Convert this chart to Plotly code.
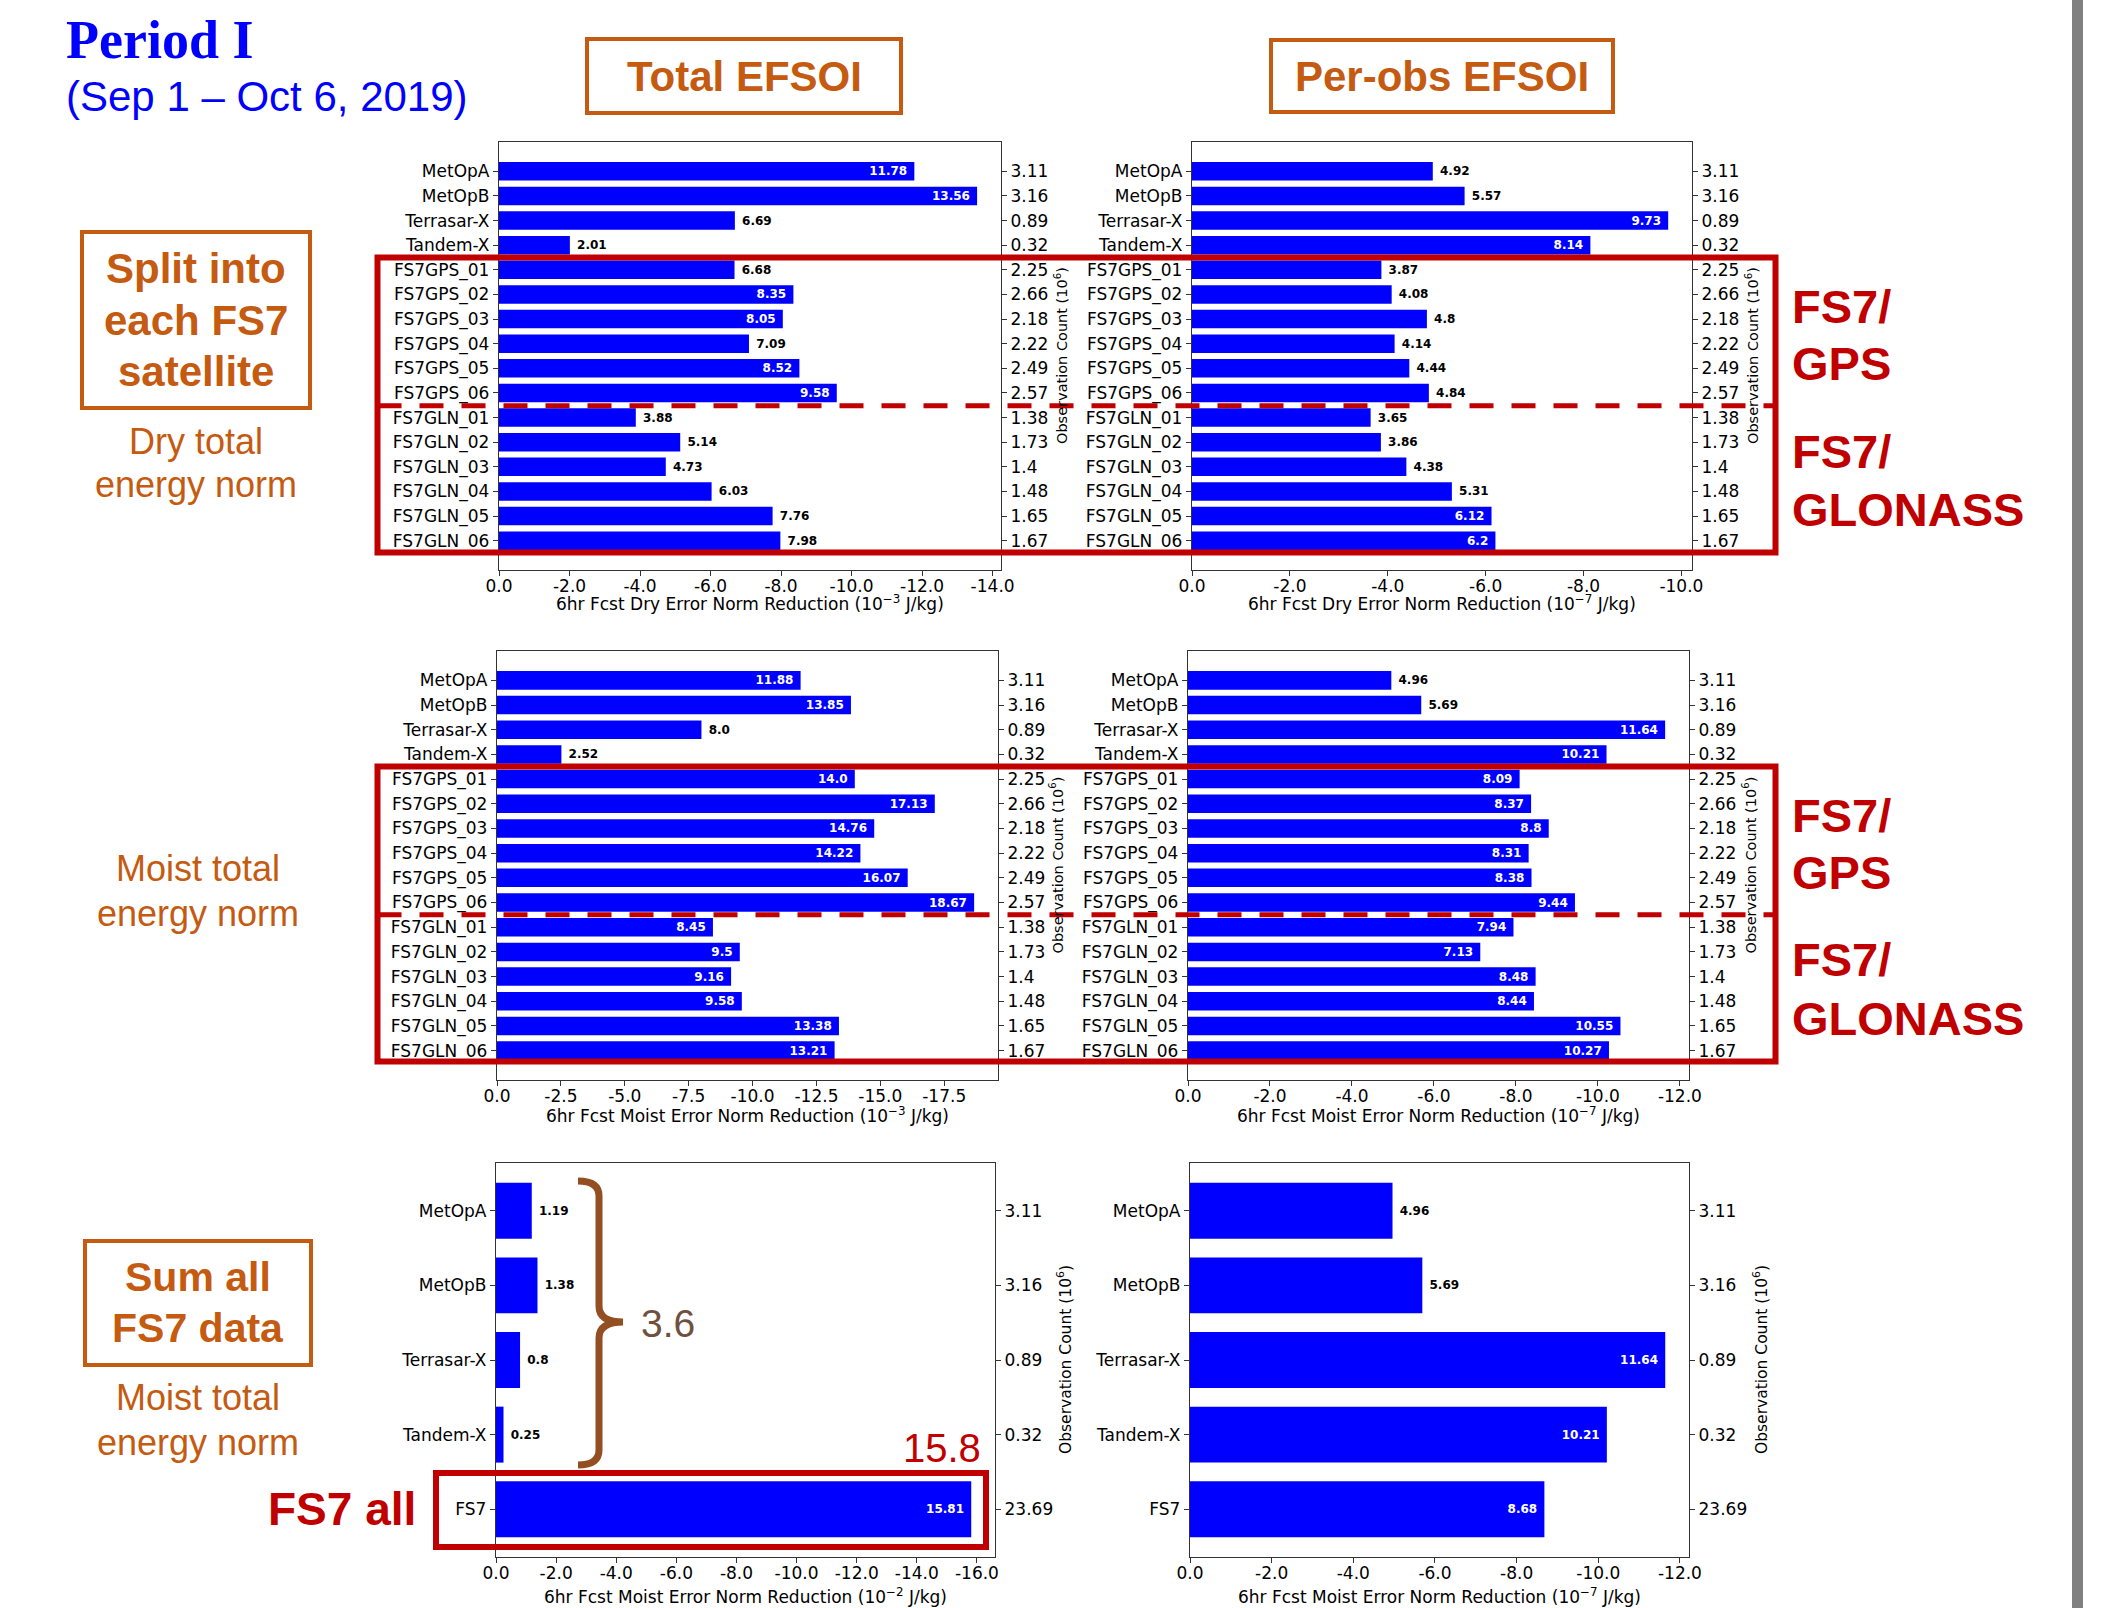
import plotly.graph_objects as go

W, H = 2112, 1608

# ---------------- data ----------------
names_split = ["MetOpA", "MetOpB", "Terrasar-X", "Tandem-X",
               "FS7GPS_01", "FS7GPS_02", "FS7GPS_03", "FS7GPS_04", "FS7GPS_05", "FS7GPS_06",
               "FS7GLN_01", "FS7GLN_02", "FS7GLN_03", "FS7GLN_04", "FS7GLN_05", "FS7GLN_06"]
counts_split = [3.11, 3.16, 0.89, 0.32, 2.25, 2.66, 2.18, 2.22, 2.49, 2.57,
                1.38, 1.73, 1.4, 1.48, 1.65, 1.67]

names_sum = ["MetOpA", "MetOpB", "Terrasar-X", "Tandem-X", "FS7"]
counts_sum = [3.11, 3.16, 0.89, 0.32, 23.69]

dry_total = [11.78, 13.56, 6.69, 2.01, 6.68, 8.35, 8.05, 7.09, 8.52, 9.58,
             3.88, 5.14, 4.73, 6.03, 7.76, 7.98]
dry_perobs = [4.92, 5.57, 9.73, 8.14, 3.87, 4.08, 4.8, 4.14, 4.44, 4.84,
              3.65, 3.86, 4.38, 5.31, 6.12, 6.2]
moist_total = [11.88, 13.85, 8.0, 2.52, 14.0, 17.13, 14.76, 14.22, 16.07, 18.67,
               8.45, 9.5, 9.16, 9.58, 13.38, 13.21]
moist_perobs = [4.96, 5.69, 11.64, 10.21, 8.09, 8.37, 8.8, 8.31, 8.38, 9.44,
                7.94, 7.13, 8.48, 8.44, 10.55, 10.27]
sum_total = [1.19, 1.38, 0.8, 0.25, 15.81]
sum_perobs = [4.96, 5.69, 11.64, 10.21, 8.68]

xtitles = [
    "6hr Fcst Dry Error Norm Reduction (10<sup>\u22123</sup> J/kg)",
    "6hr Fcst Dry Error Norm Reduction (10<sup>\u22127</sup> J/kg)",
    "6hr Fcst Moist Error Norm Reduction (10<sup>\u22123</sup> J/kg)",
    "6hr Fcst Moist Error Norm Reduction (10<sup>\u22127</sup> J/kg)",
    "6hr Fcst Moist Error Norm Reduction (10<sup>\u22122</sup> J/kg)",
    "6hr Fcst Moist Error Norm Reduction (10<sup>\u22127</sup> J/kg)",
]
ytitle_right = "Observation Count (10<sup>6</sup>)"

# ---------------- styling / geometry (pixels) ----------------
panels = [
    dict(vals=dry_total, names=names_split, counts=counts_split, l=499, r=1001, t=142, b=570, step=2.0, thr=8.0, xt_dy=33, yt_dx=60, yt_size=14.5),
    dict(vals=dry_perobs, names=names_split, counts=counts_split, l=1192, r=1692, t=142, b=570, step=2.0, thr=6.0, xt_dy=33, yt_dx=60, yt_size=14.5),
    dict(vals=moist_total, names=names_split, counts=counts_split, l=497, r=998, t=651, b=1080, step=2.5, thr=8.2, xt_dy=35, yt_dx=58, yt_size=14.5),
    dict(vals=moist_perobs, names=names_split, counts=counts_split, l=1188, r=1689, t=651, b=1080, step=2.0, thr=6.0, xt_dy=35, yt_dx=60, yt_size=14.5),
    dict(vals=sum_total, names=names_sum, counts=counts_sum, l=496, r=995, t=1163, b=1557, step=2.0, thr=8.0, xt_dy=39, yt_dx=69, yt_size=15.5),
    dict(vals=sum_perobs, names=names_sum, counts=counts_sum, l=1190, r=1689, t=1163, b=1557, step=2.0, thr=6.0, xt_dy=39, yt_dx=71, yt_size=15.5),
]

FONT = "DejaVu Sans"
AX_COLOR = "#333333"
ORANGE = "#C55A11"
RED = "#C00000"
BROWN = "#934E22"
NBSP = "\u00a0"


def fx(x):
    return x / W


def fy(y):
    return 1 - y / H


fig = go.Figure()
layout = dict(
    width=W, height=H,
    margin=dict(l=0, r=0, t=0, b=0, pad=0, autoexpand=False),
    paper_bgcolor="white", plot_bgcolor="white",
    showlegend=False,
    font=dict(family=FONT, size=17, color="black"),
)
annotations = []
shapes = []

for k, p in enumerate(panels, start=1):
    vals = p["vals"]
    n = len(vals)
    idx = list(range(n))
    hbar = 0.8
    m = hbar / 2 + 0.05 * (n - 1 + hbar)
    xmax = max(vals) * 1.05
    nt = int(xmax / p["step"] + 1e-9)
    tv = [-p["step"] * i for i in range(nt + 1)]
    tt = [f"{abs(v):.1f}" if v == 0 else f"{v:.1f}" for v in tv]
    inside = [v > p["thr"] for v in vals]
    labels = [(str(v) + NBSP) if i else (NBSP + str(v)) for v, i in zip(vals, inside)]

    xa, ya, ya2 = f"x{k}", f"y{k}", f"y{k + 6}"
    fig.add_trace(go.Bar(
        x=[-v for v in vals], y=idx, orientation="h",
        xaxis=xa, yaxis=ya, width=0.75,
        marker=dict(color="#0000FF", line=dict(width=0)),
        text=labels,
        textposition=["inside" if i else "outside" for i in inside],
        insidetextanchor="end",
        textfont=dict(family=FONT, size=12, weight="bold",
                      color=["white" if i else "black" for i in inside]),
        constraintext="none", cliponaxis=False, hoverinfo="skip",
    ))
    fig.add_trace(go.Scatter(
        x=[-v for v in vals], y=idx, xaxis=xa, yaxis=ya2, mode="markers",
        marker=dict(opacity=0, size=1), hoverinfo="skip",
    ))

    xkey = "xaxis" if k == 1 else f"xaxis{k}"
    ykey = "yaxis" if k == 1 else f"yaxis{k}"
    y2key = f"yaxis{k + 6}"
    common = dict(showgrid=False, zeroline=False, showline=True, linecolor=AX_COLOR,
                  linewidth=1.3, ticks="outside", ticklen=5, tickwidth=1.2,
                  tickcolor=AX_COLOR, automargin=False,
                  tickfont=dict(family=FONT, size=17, color="black"))
    layout[xkey] = dict(common, domain=[fx(p["l"]), fx(p["r"])], anchor=ya,
                        range=[0, -xmax], tickvals=tv, ticktext=tt, mirror=True,
                        ticklabelstandoff=-5)
    layout[ykey] = dict(common, domain=[fy(p["b"]), fy(p["t"])], anchor=xa,
                        range=[n - 1 + m, -m], tickvals=idx, ticktext=p["names"])
    layout[y2key] = dict(common, overlaying=ya, side="right", anchor=xa,
                         range=[n - 1 + m, -m], tickvals=idx,
                         ticktext=[str(c) for c in p["counts"]])

    annotations.append(dict(text=xtitles[k - 1], x=fx((p["l"] + p["r"]) / 2),
                            y=fy(p["b"] + p["xt_dy"]), xref="paper", yref="paper",
                            showarrow=False, font=dict(family=FONT, size=17, color="black"),
                            xanchor="center", yanchor="middle"))
    annotations.append(dict(text=ytitle_right, x=fx(p["r"] + p["yt_dx"]),
                            y=fy((p["t"] + p["b"]) / 2), xref="paper", yref="paper",
                            showarrow=False, textangle=-90,
                            font=dict(family=FONT, size=p["yt_size"], color="black"),
                            xanchor="center", yanchor="middle"))


def ann(text, x, y, size, color, family="Liberation Sans", bold=False, xanchor="center"):
    annotations.append(dict(text=text, x=fx(x), y=fy(y), xref="paper", yref="paper",
                            showarrow=False, xanchor=xanchor, yanchor="middle",
                            font=dict(family=family, size=size, color=color,
                                      weight="bold" if bold else "normal")))


def rect(x0, y0, x1, y1, color, width, fill=None):
    shapes.append(dict(type="rect", xref="paper", yref="paper",
                       x0=fx(x0), x1=fx(x1), y0=fy(y0), y1=fy(y1),
                       line=dict(color=color, width=width),
                       fillcolor=fill if fill else "rgba(0,0,0,0)", layer="above"))


def hline(x0, x1, y, color, width, dash):
    shapes.append(dict(type="line", xref="paper", yref="paper",
                       x0=fx(x0), x1=fx(x1), y0=fy(y), y1=fy(y),
                       line=dict(color=color, width=width, dash=dash), layer="above"))


# titles
ann("Period I", 64, 40, 54, "#0000FF", family="Liberation Serif", bold=True, xanchor="left")
ann("(Sep 1 \u2013 Oct 6, 2019)", 64, 97, 42, "#0000FF", xanchor="left")
rect(587, 39, 901, 113, ORANGE, 4)
ann("Total EFSOI", 744, 77, 42, ORANGE, bold=True)
rect(1271, 40, 1613, 112, ORANGE, 4)
ann("Per-obs EFSOI", 1442, 77, 42, ORANGE, bold=True)

# left side notes
rect(82, 232, 310, 408, ORANGE, 4)
ann("Split into", 196, 269, 42, ORANGE, bold=True)
ann("each FS7", 196, 320, 42, ORANGE, bold=True)
ann("satellite", 196, 371, 42, ORANGE, bold=True)
ann("Dry total", 196, 441, 36, ORANGE)
ann("energy norm", 196, 484, 36, ORANGE)
ann("Moist total", 198, 868, 36, ORANGE)
ann("energy norm", 198, 913, 36, ORANGE)
rect(85, 1241, 311, 1365, ORANGE, 4)
ann("Sum all", 198, 1277, 41, ORANGE, bold=True)
ann("FS7 data", 198, 1328, 41, ORANGE, bold=True)
ann("Moist total", 198, 1397, 36, ORANGE)
ann("energy norm", 198, 1442, 36, ORANGE)

# red boxes and dashed separators
for dy in (0, 509):
    rect(377.5, 257.5 + dy, 1775.5, 552.5 + dy, RED, 6)
    hline(377.5, 1775.5, 405.7 + dy, RED, 5, "24px,18px")
    ann("FS7/", 1790, 306 + dy, 47, RED, bold=True, xanchor="left")
    ann("GPS", 1790, 363 + dy, 47, RED, bold=True, xanchor="left")
    ann("FS7/", 1790, 451 + dy, 47, RED, bold=True, xanchor="left")
    ann("GLONASS", 1790, 509 + dy, 47, RED, bold=True, xanchor="left")

# bottom annotations
rect(436, 1473, 986, 1547, RED, 6)
ann("FS7 all", 342, 1509, 46, RED, bold=True)
ann("15.8", 942, 1448, 40, RED)
ann("3.6", 668, 1323, 39, "#6F5040")

brace_pts = [("M", 578, 1181), ("Q", 599, 1181, 599, 1196), ("L", 599, 1306),
             ("Q", 599, 1322, 623, 1322), ("Q", 599, 1322, 599, 1338),
             ("L", 599, 1450), ("Q", 599, 1465, 578, 1465)]
path = ""
for seg in brace_pts:
    cmd, coords = seg[0], seg[1:]
    pts = " ".join(f"{fx(coords[i]):.5f},{fy(coords[i + 1]):.5f}" for i in range(0, len(coords), 2))
    path += f"{cmd} {pts} "
shapes.append(dict(type="path", xref="paper", yref="paper", path=path.strip(),
                   line=dict(color=BROWN, width=7), layer="above"))

# grey bar at right edge
rect(2072, 0, 2083, H, "#808080", 0, fill="#808080")

layout["annotations"] = annotations
layout["shapes"] = shapes
fig.update_layout(**layout)
fig.write_html("out.html", config={"displayModeBar": False},
               post_script="document.body.style.margin='0px';document.body.style.overflow='hidden';")
